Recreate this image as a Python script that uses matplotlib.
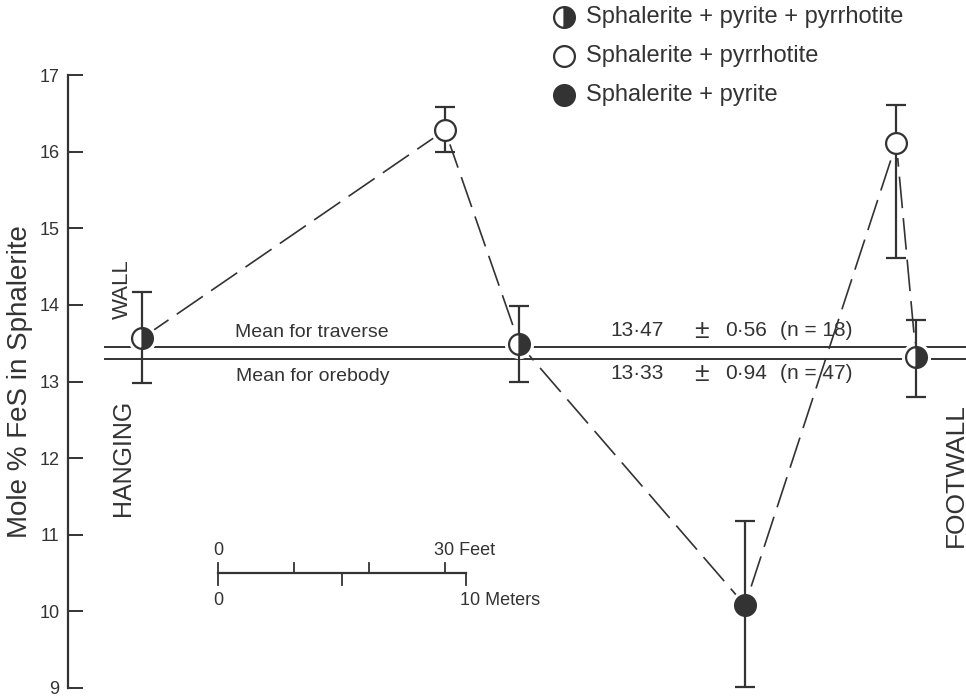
import matplotlib
matplotlib.use("Agg")
import matplotlib.pyplot as plt

plt.rcParams['font.family'] = ['Liberation Sans', 'DejaVu Sans']

# distance along traverse (m) and mole % FeS
dist_m = [3.0, 15.2, 18.2, 27.3, 33.4, 34.2]
fes = [13.57, 16.28, 13.49, 10.08, 16.11, 13.32]
fes_hi = [14.17, 16.58, 13.99, 11.18, 16.61, 13.80]
fes_lo = [12.98, 16.00, 13.00, 9.01, 14.61, 12.80]
assemblage = ['py+po', 'po', 'py+po', 'py', 'po', 'py+po']

mean_traverse = 13.45
mean_orebody = 13.30
mean_vals = [("13\u00b747", "0\u00b756", "(n = 18)"), ("13\u00b733", "0\u00b794", "(n = 47)")]

legend_labels = {'py+po': "Sphalerite + pyrite + pyrrhotite",
                 'po': "Sphalerite + pyrrhotite",
                 'py': "Sphalerite + pyrite"}
yticks = [9, 10, 11, 12, 13, 14, 15, 16, 17]

ink = '#333333'
ms = 15


def marker_style(kind):
    if kind == 'po':
        return dict(marker='o', mfc='white', mec=ink, fillstyle='full')
    if kind == 'py':
        return dict(marker='o', mfc=ink, mec=ink, fillstyle='full')
    return dict(marker='o', mfc=ink, mfcalt='white', mec=ink, fillstyle='right')


fig = plt.figure(figsize=(9.66, 6.97), dpi=100)
ax = fig.add_axes([68/966, 9/697, 898/966, 613/697])
ax.set_xlim(0, 898/24.8)
ax.set_ylim(9, 17)

# mean lines
ax.plot([1.5, 40], [mean_traverse]*2, color=ink, lw=1.4, zorder=1, clip_on=False)
ax.plot([1.5, 40], [mean_orebody]*2, color=ink, lw=1.4, zorder=1, clip_on=False)

# dashed traverse line
ax.plot(dist_m, fes, color=ink, lw=1.2, dashes=(19, 6), zorder=2)

# white halo so mean lines break around the symbols
ax.plot(dist_m, fes, 'o', ms=ms+5, mfc='white', mec='white', zorder=3)

yerr = [[f - lo for f, lo in zip(fes, fes_lo)], [hi - f for f, hi in zip(fes, fes_hi)]]
ax.errorbar(dist_m, fes, yerr=yerr, fmt='none', ecolor=ink, elinewidth=1.6,
            capsize=7, capthick=1.6, zorder=4, clip_on=False)

for x, y, kind in zip(dist_m, fes, assemblage):
    ax.plot(x, y, ms=ms, mew=1.6, zorder=5, **marker_style(kind))

# legend above the axis
for i, kind in enumerate(['py+po', 'po', 'py']):
    ly = 17.76 - 0.51*i
    ax.plot(20.0, ly, ms=ms, mew=1.6, clip_on=False, **marker_style(kind))
    ax.text(20.9, ly, legend_labels[kind], fontsize=17, color=ink, va='center', ha='left')

# text labels
ax.text(9.85, 13.64, "Mean for traverse", fontsize=14, color=ink, ha='center', va='center')
ax.text(9.85, 13.07, "Mean for orebody", fontsize=14, color=ink, ha='center', va='center')
for (m, s, n), ty in zip(mean_vals, [13.66, 13.10]):
    ax.text(21.85, ty, m, fontsize=15, color=ink, ha='left', va='center')
    ax.text(25.55, ty, "\u00b1", fontsize=19, color=ink, ha='center', va='center')
    ax.text(26.5, ty, s, fontsize=15, color=ink, ha='left', va='center')
    ax.text(28.7, ty, n, fontsize=15, color=ink, ha='left', va='center')

ax.text(2.2, 14.2, "WALL", fontsize=16, color=ink, rotation=90, ha='center', va='center')
ax.text(2.2, 12.0, "HANGING", fontsize=18, color=ink, rotation=90, ha='center', va='center')
ax.text(35.8, 11.78, "FOOTWALL", fontsize=19, color=ink, rotation=90, ha='center', va='center')

# scale bar: 10 m / 30 ft
x0, sy = 6.05, 10.50
ax.plot([x0, x0 + 10], [sy, sy], color=ink, lw=1.6)
for ft in [0, 10, 20, 30]:
    xx = x0 + ft*0.3048
    ax.plot([xx, xx], [sy, sy + 0.13], color=ink, lw=1.3)
for m in [0, 5, 10]:
    xx = x0 + m
    ax.plot([xx, xx], [sy, sy - 0.16], color=ink, lw=1.3)
ax.text(x0, sy + 0.3, "0", fontsize=13, color=ink, ha='center', va='center')
ax.text(x0 + 8.7, sy + 0.3, "30 Feet", fontsize=13, color=ink, ha='left', va='center')
ax.text(x0, sy - 0.36, "0", fontsize=13, color=ink, ha='center', va='center')
ax.text(x0 + 9.75, sy - 0.36, "10 Meters", fontsize=13, color=ink, ha='left', va='center')

# axis styling
for side in ['top', 'right', 'bottom']:
    ax.spines[side].set_visible(False)
ax.spines['left'].set_color(ink)
ax.spines['left'].set_linewidth(1.6)
ax.set_yticks(yticks)
ax.set_yticklabels([str(t) for t in yticks])
ax.tick_params(axis='y', direction='in', length=11, width=1.4, color=ink,
               pad=6, labelsize=13, labelcolor=ink)
ax.set_xticks([])
ax.set_ylabel("Mole % FeS in Sphalerite", fontsize=20, color=ink)
ax.yaxis.set_label_coords(-35/898, 0.5)

fig.savefig("out.png", dpi=100)
